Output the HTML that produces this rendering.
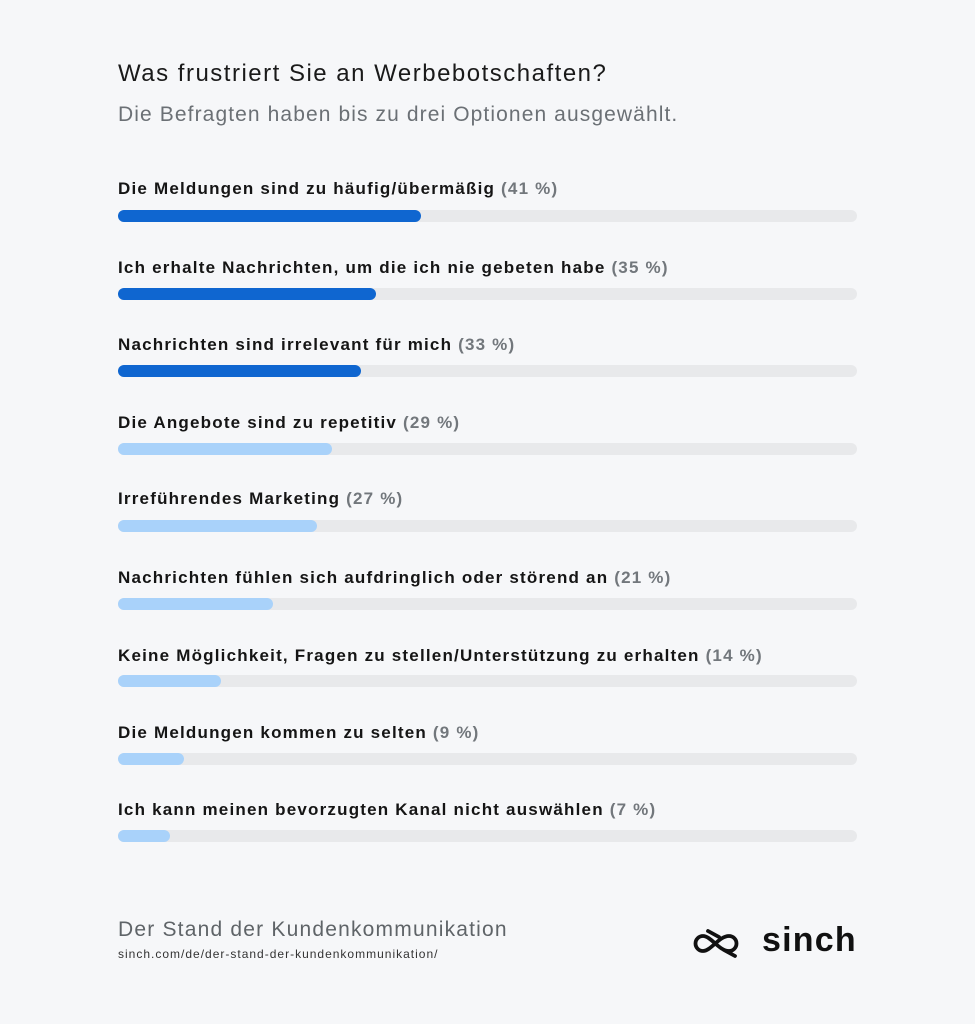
<!DOCTYPE html>
<html><head><meta charset="utf-8"><style>
body{margin:0;width:975px;height:1024px;background:#f6f7f9;font-family:"Liberation Sans",sans-serif;position:relative;overflow:hidden;color:#111}
.a{position:absolute;white-space:nowrap}
.t{left:118px;top:60px;font-size:24px;letter-spacing:1.5px;color:#1a1a1a}
.s{left:118px;top:103px;font-size:21px;letter-spacing:1.1px;color:#6b7075}
.l{left:118px;font-size:17px;font-weight:bold;letter-spacing:1.2px;color:#151515}
.l span{color:#72777c}
.tr{left:118px;width:739px;height:12px;border-radius:6px;background:#e8e9eb}
.b{position:absolute;left:0;top:0;height:12px;border-radius:6px}
.d{background:#0f66d0}.p{background:#a9d2fa}
</style></head><body>
<div class="a t">Was frustriert Sie an Werbebotschaften?</div>
<div class="a s">Die Befragten haben bis zu drei Optionen ausgewählt.</div>

<div class="a l" style="top:179px">Die Meldungen sind zu häufig/übermäßig <span>(41 %)</span></div>
<div class="a tr" style="top:210px"><div class="b d" style="width:303px"></div></div>
<div class="a l" style="top:258px">Ich erhalte Nachrichten, um die ich nie gebeten habe <span>(35 %)</span></div>
<div class="a tr" style="top:288px"><div class="b d" style="width:258px"></div></div>
<div class="a l" style="top:335px">Nachrichten sind irrelevant für mich <span>(33 %)</span></div>
<div class="a tr" style="top:365px"><div class="b d" style="width:243px"></div></div>
<div class="a l" style="top:413px">Die Angebote sind zu repetitiv <span>(29 %)</span></div>
<div class="a tr" style="top:443px"><div class="b p" style="width:214px"></div></div>
<div class="a l" style="top:489px">Irreführendes Marketing <span>(27 %)</span></div>
<div class="a tr" style="top:520px"><div class="b p" style="width:199px"></div></div>
<div class="a l" style="top:568px">Nachrichten fühlen sich aufdringlich oder störend an <span>(21 %)</span></div>
<div class="a tr" style="top:598px"><div class="b p" style="width:155px"></div></div>
<div class="a l" style="top:646px">Keine Möglichkeit, Fragen zu stellen/Unterstützung zu erhalten <span>(14 %)</span></div>
<div class="a tr" style="top:675px"><div class="b p" style="width:103px"></div></div>
<div class="a l" style="top:723px">Die Meldungen kommen zu selten <span>(9 %)</span></div>
<div class="a tr" style="top:753px"><div class="b p" style="width:66px"></div></div>
<div class="a l" style="top:800px">Ich kann meinen bevorzugten Kanal nicht auswählen <span>(7 %)</span></div>
<div class="a tr" style="top:830px"><div class="b p" style="width:52px"></div></div>

<div class="a" style="left:118px;top:918px;font-size:21px;letter-spacing:1.2px;color:#5f6468">Der Stand der Kundenkommunikation</div>
<div class="a" style="left:118px;top:947px;font-size:12px;letter-spacing:1px;color:#333">sinch.com/de/der-stand-der-kundenkommunikation/</div>
<svg class="a" style="left:692px;top:926px" width="60" height="34" viewBox="0 0 60 34"><path d="M11 10a7.5 7.5 0 1 0 0 15c8 0 16-15 26-15a7.5 7.5 0 1 1 0 15c-10 0-18-15-26-15M16 5l11 6M32 24l11 6" fill="none" stroke="#111" stroke-width="3.8" stroke-linecap="round"/></svg>
<div class="a" style="left:762px;top:921px;font-size:34px;font-weight:bold;color:#111;letter-spacing:1.2px">sinch</div>
</body></html>
